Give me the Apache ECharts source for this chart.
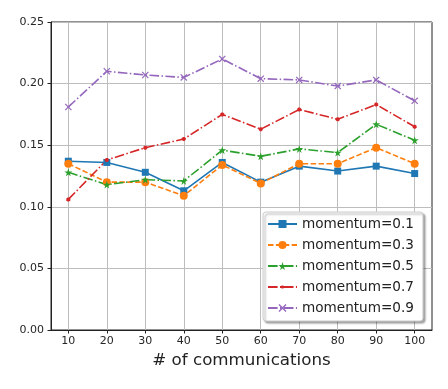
<!DOCTYPE html>
<html>
<head>
<meta charset="utf-8">
<script src="https://cdn.jsdelivr.net/npm/echarts@6/dist/echarts.min.js"></script>
<style>
html,body{margin:0;padding:0;background:#fff;}
#main{width:448px;height:389px;}
</style>
</head>
<body>
<div id="main"></div>
<script>
// x positions (# of communications)
var commRounds = [10, 20, 30, 40, 50, 60, 70, 80, 90, 100];
var yTicks = [0, 0.05, 0.10, 0.15, 0.20, 0.25];
var seriesNames = ['momentum=0.1', 'momentum=0.3', 'momentum=0.5', 'momentum=0.7', 'momentum=0.9'];

var m01 = [0.137, 0.136, 0.128, 0.113, 0.136, 0.120, 0.133, 0.129, 0.133, 0.127];
var m03 = [0.135, 0.120, 0.120, 0.109, 0.134, 0.119, 0.135, 0.135, 0.148, 0.135];
var m05 = [0.128, 0.118, 0.122, 0.121, 0.146, 0.141, 0.147, 0.144, 0.167, 0.154];
var m07 = [0.106, 0.138, 0.148, 0.155, 0.175, 0.163, 0.179, 0.171, 0.183, 0.165];
var m09 = [0.181, 0.210, 0.207, 0.205, 0.220, 0.204, 0.203, 0.198, 0.203, 0.186];

function pairs(vals){
    return commRounds.map(function(x, i){ return [x, vals[i]]; });
}

var starPath = 'path://M50,0 L61,35 L98,35 L68,57 L79,91 L50,70 L21,91 L32,57 L2,35 L39,35 Z';
var crossPath = 'path://M0,12 L12,0 L50,38 L88,0 L100,12 L62,50 L100,88 L88,100 L50,62 L12,100 L0,88 L38,50 Z';
// small dot inside a larger box, so the legend icon stays small too
var dotPath = 'path://M0,0 M100,100 M30,42 L42,30 L58,30 L70,42 L70,58 L58,70 L42,70 L30,58 Z';
var font = 'DejaVu Sans';

var myChart = echarts.init(document.getElementById('main'));
var option = {
    animation: false,
    color: ['#1f77b4', '#ff7f0e', '#2ca02c', '#d62728', '#9467bd'],
    grid: {left: 51, right: 16, top: 22, bottom: 59, show: true, borderColor: '#222', borderWidth: 1, backgroundColor: 'transparent'},
    legend: {
        orient: 'vertical', left: 263, top: 212,
        padding: [5, 9, 6, 4], itemGap: 7, itemWidth: 29, itemHeight: 10, itemTextGap: 11,
        backgroundColor: '#fff', borderColor: '#ccc', borderWidth: 1, borderRadius: 3,
        shadowColor: 'rgba(0,0,0,0.35)', shadowBlur: 2, shadowOffsetX: 2, shadowOffsetY: 2,
        textStyle: {fontFamily: font, fontSize: 13.6, color: '#222'},
        data: seriesNames
    },
    xAxis: {
        type: 'value', min: 5.5, max: 104.5,
        name: '# of communications', nameLocation: 'middle', nameGap: 21,
        nameTextStyle: {fontFamily: font, fontSize: 16.7, color: '#222'},
        axisLine: {show: true, lineStyle: {color: '#222', width: 1}},
        axisTick: {show: true, length: 3.5, customValues: commRounds, lineStyle: {color: '#222'}},
        axisLabel: {customValues: commRounds, margin: 6, fontFamily: font, fontSize: 11, color: '#262626'},
        splitLine: {show: true, lineStyle: {color: '#bdbdbd', width: 1}}
    },
    yAxis: {
        type: 'value', min: 0, max: 0.25, interval: 0.05,
        axisLine: {show: true, lineStyle: {color: '#222', width: 1}},
        axisTick: {show: true, length: 3.5, lineStyle: {color: '#222'}},
        axisLabel: {margin: 7, fontFamily: font, fontSize: 11, color: '#262626',
            formatter: function(v){ return v.toFixed(2); }},
        splitLine: {show: true, lineStyle: {color: '#bdbdbd', width: 1}}
    },
    series: [
        {name: seriesNames[0], type: 'line', data: pairs(m01), symbol: 'rect', symbolSize: 7,
            lineStyle: {width: 1.6, type: 'solid'}},
        {name: seriesNames[1], type: 'line', data: pairs(m03), symbol: 'circle', symbolSize: 8,
            lineStyle: {width: 1.6, type: [5.5, 2.4]}},
        {name: seriesNames[2], type: 'line', data: pairs(m05), symbol: starPath, symbolSize: 8,
            lineStyle: {width: 1.6, type: [9.6, 2.4, 1.5, 2.4]}},
        {name: seriesNames[3], type: 'line', data: pairs(m07), symbol: dotPath, symbolSize: 10,
            lineStyle: {width: 1.6, type: [9.6, 2.4, 1.5, 2.4]}},
        {name: seriesNames[4], type: 'line', data: pairs(m09), symbol: crossPath, symbolSize: 7,
            lineStyle: {width: 1.6, type: [9.6, 2.4, 1.5, 2.4]}}
    ]
};
myChart.setOption(option);
window.addEventListener('resize', function () {
    myChart.resize();
});
</script>
</body>
</html>
